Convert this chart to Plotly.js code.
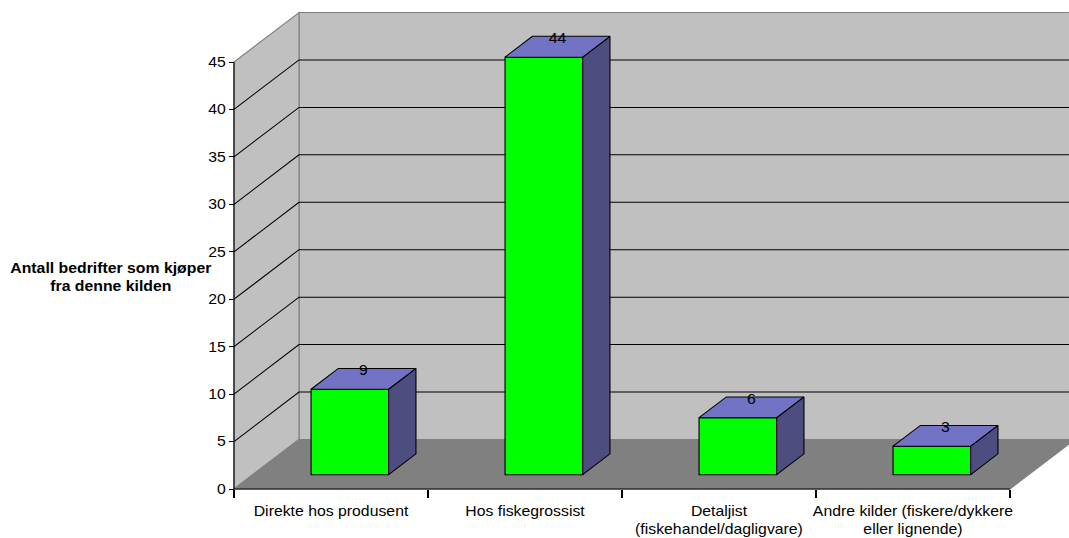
<!DOCTYPE html>
<html>
<head>
<meta charset="utf-8">
<script src="https://cdn.plot.ly/plotly-3.0.1.min.js"></script>
<style>
  html, body { margin: 0; padding: 0; background: #fff; overflow: hidden; }
  /* the chart is laid out narrow and widened, giving the broad lettering */
  #chart { width: 946px; height: 538px; transform: scaleX(1.13); transform-origin: 0 0; }
</style>
</head>
<body>
<div id="chart"></div>
<script>
// ---- data ----
const categories = [
  "Direkte hos produsent",
  "Hos fiskegrossist",
  "Detaljist<br>(fiskehandel/dagligvare)",
  "Andre kilder (fiskere/dykkere<br>eller lignende)"
];
const values = [9, 44, 6, 3];
const valueTicks = [0, 5, 10, 15, 20, 25, 30, 35, 40, 45];
const yTitle = "Antall bedrifter som kjøper<br>fra denne kilden";

// ---- geometry of the pseudo-3D box ----
const STRETCH = 1.13;
const W = 946, H = 538;
const M = { l: 198, r: 0, t: 10, b: 39 };
const plotW = W - M.l - M.r;
const plotH = H - M.t - M.b;
const catPx = 194 / STRETCH;          // px per category
const unitPx = 427 / 45;              // px per value unit
const padX = 234 / STRETCH - M.l;     // front axis inset from plot edge
const padY = 10;
const xMin = -0.5 - padX / catPx, xMax = xMin + plotW / catPx;
const yMin = -padY / unitPx, yMax = yMin + plotH / unitPx;
const depthX = 65 / 194;              // full depth, in category units
const depthY = 49.5 / unitPx;         // full depth, in value units
const yTop = valueTicks[valueTicks.length - 1];
const barFront = 0.29, barBack = 0.71, barWidth = 0.4;

const idx = categories.map((c, i) => i);
const xLeft = -0.5, xRight = categories.length - 0.5;
const boundaries = idx.map(i => i - 0.5).concat([xRight]);

const path = pts => "M" + pts.map(p => p[0] + "," + p[1]).join("L") + "Z";
const line = pts => "M" + pts.map(p => p[0] + "," + p[1]).join("L");

// walls, floor and grid
const shapes = [];
shapes.push({ type: "path", layer: "below", xref: "x", yref: "y",
  path: path([[xLeft + depthX, depthY], [xRight + depthX, depthY], [xRight + depthX, yTop + depthY], [xLeft + depthX, yTop + depthY]]),
  fillcolor: "#C0C0C0", line: { color: "#808080", width: 1 } });
shapes.push({ type: "path", layer: "below", xref: "x", yref: "y",
  path: path([[xLeft, 0], [xLeft + depthX, depthY], [xLeft + depthX, yTop + depthY], [xLeft, yTop]]),
  fillcolor: "#C0C0C0", line: { color: "#808080", width: 1 } });
shapes.push({ type: "path", layer: "below", xref: "x", yref: "y",
  path: path([[xLeft, 0], [xRight, 0], [xRight + depthX, depthY], [xLeft + depthX, depthY]]),
  fillcolor: "#808080", line: { color: "#808080", width: 1 } });
valueTicks.filter(v => v > 0 && v < yTop).forEach(v => {
  shapes.push({ type: "path", layer: "below", xref: "x", yref: "y",
    path: line([[xLeft, v], [xLeft + depthX, v + depthY], [xRight + depthX, v + depthY]]),
    line: { color: "#000", width: 1 } });
});
// front axis lines
shapes.push({ type: "path", layer: "below", xref: "x", yref: "y",
  path: line([[xLeft, yTop], [xLeft, 0], [xRight, 0]]), line: { color: "#000", width: 1 } });

// bar faces
const dx = (barBack - barFront) * depthX, dy = (barBack - barFront) * depthY;
const base = barFront * depthY;
const sideX = [], sideY = [], topX = [], topY = [];
idx.forEach(i => {
  const xl = i + barFront * depthX - barWidth / 2, xr = xl + barWidth;
  const t = base + values[i];
  sideX.push(xr, xr, xr + dx, xr + dx, xr, null);
  sideY.push(base, t, t + dy, base + dy, base, null);
  topX.push(xl, xr, xr + dx, xl + dx, xl, null);
  topY.push(t, t, t + dy, t + dy, t, null);
});

const font = "Liberation Sans, Arial, sans-serif";
const traces = [
  { type: "bar", x: idx.map(i => i + barFront * depthX), y: values, base: values.map(() => base),
    width: barWidth, marker: { color: "#00FF00", line: { color: "#000", width: 1 } }, hoverinfo: "skip" },
  { type: "scatter", mode: "lines", x: sideX, y: sideY, fill: "toself", fillcolor: "#4D4D80",
    line: { color: "#000", width: 1 }, hoverinfo: "skip" },
  { type: "scatter", mode: "lines", x: topX, y: topY, fill: "toself", fillcolor: "#7373C6",
    line: { color: "#000", width: 1 }, hoverinfo: "skip" },
  { type: "scatter", mode: "text",
    x: idx.map(i => i + (barFront + barBack) / 2 * depthX),
    y: values.map(v => v + (barFront + barBack) / 2 * depthY),
    text: values.map(String), textposition: "top center",
    textfont: { family: font, size: 14, color: "#000" }, cliponaxis: false, hoverinfo: "skip" }
];

const layout = {
  width: W, height: H, margin: M,
  paper_bgcolor: "#fff", plot_bgcolor: "#fff",
  showlegend: false, hovermode: false,
  font: { family: font, size: 14, color: "#000" },
  xaxis: {
    range: [xMin, xMax], anchor: "free", position: padY / plotH,
    tickmode: "array", tickvals: idx, ticktext: categories, ticks: "",
    showgrid: false, zeroline: false, showline: false, fixedrange: true,
    tickfont: { family: font, size: 14, color: "#000" }, ticklabelstandoff: 12,
    minor: { tickmode: "array", tickvals: boundaries, ticks: "outside", ticklen: 8,
             tickcolor: "#000", tickwidth: 1, showgrid: false }
  },
  yaxis: {
    range: [yMin, yMax], anchor: "free", position: padX / plotW,
    tickmode: "array", tickvals: valueTicks, ticks: "outside", ticklen: 5 / STRETCH,
    tickcolor: "#000", tickwidth: 1,
    showgrid: false, zeroline: false, showline: false, fixedrange: true,
    tickfont: { family: font, size: 14, color: "#000" }
  },
  shapes: shapes,
  annotations: [{
    text: "<b>" + yTitle + "</b>", xref: "paper", yref: "paper",
    x: (111 / STRETCH - M.l) / plotW, y: (M.t + plotH - 277) / plotH,
    xanchor: "center", yanchor: "middle", showarrow: false,
    font: { family: font, size: 14, color: "#000" }
  }]
};

Plotly.newPlot("chart", traces, layout, { displayModeBar: false, staticPlot: true });
</script>
</body>
</html>
